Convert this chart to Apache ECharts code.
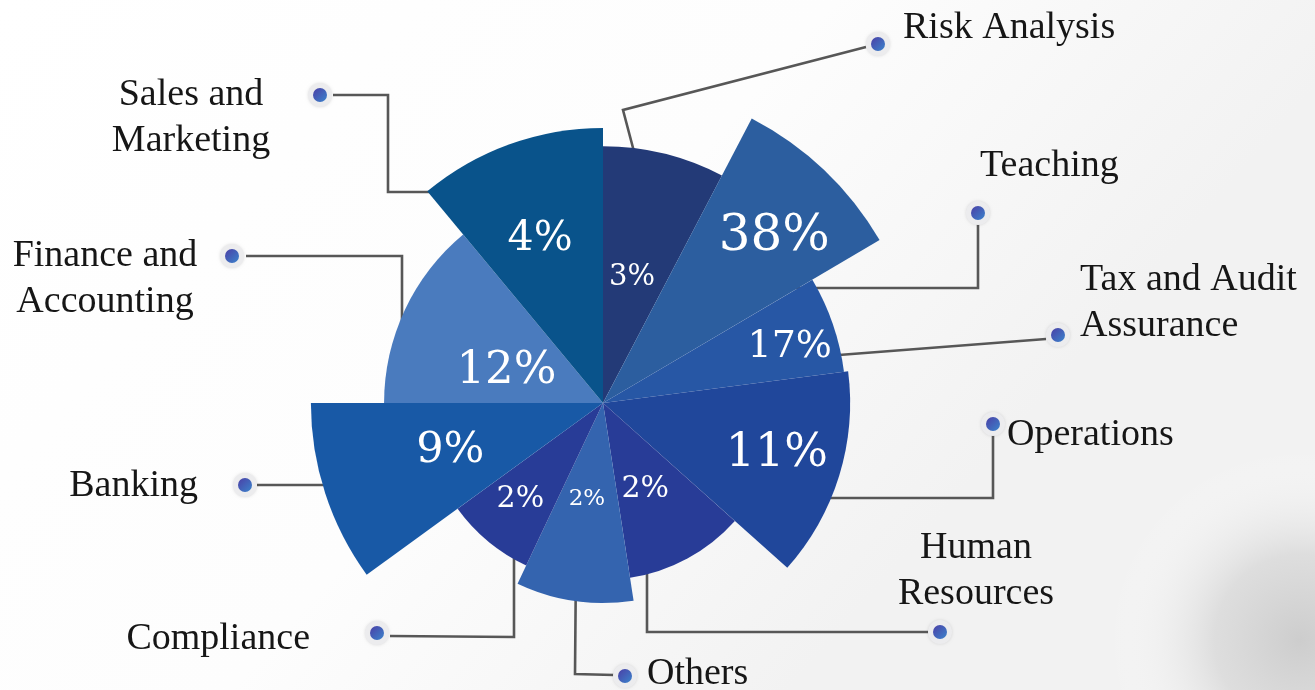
<!DOCTYPE html>
<html><head><meta charset="utf-8">
<script src="https://cdn.jsdelivr.net/npm/echarts@6/dist/echarts.min.js"></script>
<style>html,body{margin:0;padding:0;background:#fff;}#chart{width:1315px;height:690px;}</style>
</head><body><div id="chart"></div>
<script>
// ---------------- DATA ----------------
const categories = ['Risk Analysis', 'Teaching', 'Tax and Audit Assurance', 'Operations', 'Human Resources',
  'Others', 'Compliance', 'Banking', 'Finance and Accounting', 'Sales and Marketing'];
const percentValues = [3, 38, 17, 11, 2, 2, 2, 9, 12, 4];
// angular span of each slice (degrees, clockwise from 12 o'clock)
const sliceAngles = [27.6, 31.9, 23.1, 49.2, 39.4, 34.1, 28.7, 36.0, 50.3, 39.7];
// relative slice length (longest = 100)
const sliceRadii = [80, 100, 75.7, 77, 55.1, 62.3, 56, 91, 68.2, 85.7];

// ---------------- STYLE / LAYOUT ----------------
const colors = ['#233a77', '#2c5e9f', '#2757a5', '#20479b', '#283c97', '#3464af', '#283c97', '#1859a6', '#4a7bbe', '#09538b'];
const pctFont = [29, 50, 38, 46, 30, 23, 30, 43, 45, 41];
const pctDist = [41.1, 75.4, 61.1, 56.1, 29.0, 29.6, 38.9, 49.5, 32.1, 55.8]; // radial units
const pctShift = [-1.1, 1.5, 1.1, -2.2, 1.5, 1.5, 1.8, 2.0, -4.8, -0.7];     // degrees
const nameBreak = [0, 0, 3, 0, 1, 0, 0, 0, 2, 2];
const nameLayout = [
  {x: 903, y: 28, align: 'left'}, {x: 980, y: 166, align: 'left'}, {x: 1080, y: 303, align: 'left'},
  {x: 1007, y: 435, align: 'left'}, {x: 976, y: 571, align: 'center'}, {x: 647, y: 674, align: 'left'},
  {x: 310, y: 639, align: 'right'}, {x: 198, y: 486, align: 'right'}, {x: 105, y: 279, align: 'center'},
  {x: 191, y: 118, align: 'center'}
];
const leaders = [
  [[660, 250], [623, 110], [866, 47]],
  [[790, 288], [978, 288], [978, 222]],
  [[800, 358], [1046, 339]],
  [[800, 498], [993, 498], [993, 433]],
  [[647, 540], [647, 632], [930, 632]],
  [[576, 560], [575, 674], [614, 675]],
  [[514, 520], [514, 637], [390, 636]],
  [[340, 485], [257, 485]],
  [[402, 330], [402, 256], [246, 256]],
  [[450, 192], [388, 192], [388, 95], [333, 95]]
];
const dots = [[878, 44], [978, 213], [1058, 335], [993, 424], [940, 632], [625, 676], [377, 633], [245, 485], [232, 256], [320, 95]];

// build data: [radius, startAngle, endAngle, percent]
const seriesData = [];
let acc = 0;
for (let i = 0; i < categories.length; i++) {
  seriesData.push([sliceRadii[i], acc, acc + sliceAngles[i], percentValues[i]]);
  acc += sliceAngles[i];
}

function wrapName(name, k) {
  if (!k) return name;
  const w = name.split(' ');
  return w.slice(0, k).join(' ') + '\n' + w.slice(k).join(' ');
}

function renderItem(params, api) {
  const i = params.dataIndex;
  const cs = params.coordSys;
  const cx = cs.cx, cy = cs.cy;
  const r = api.value(0), a0 = api.value(1), a1 = api.value(2);
  const p0 = api.coord([r, a0]);
  const p1 = api.coord([r, a1]);
  const rad = Math.hypot(p0[0] - cx, p0[1] - cy);
  let s = Math.atan2(p0[1] - cy, p0[0] - cx);
  let e = Math.atan2(p1[1] - cy, p1[0] - cx);
  if (e <= s) e += Math.PI * 2;
  const lp = api.coord([pctDist[i], (a0 + a1) / 2 + pctShift[i]]);
  const d = dots[i];
  const nl = nameLayout[i];
  return {
    type: 'group',
    children: [
      {type: 'polyline', z2: 1, shape: {points: leaders[i]},
        style: {stroke: '#575757', lineWidth: 2.6, fill: null}},
      {type: 'sector', z2: 10, shape: {cx: cx, cy: cy, r0: 0, r: rad, startAngle: s, endAngle: e, clockwise: true},
        style: {fill: colors[i]}},
      {type: 'text', z2: 20, x: lp[0], y: lp[1] + pctFont[i] * 0.1,
        style: {text: api.value(3) + '%', fill: '#ffffff', fontSize: pctFont[i], fontFamily: '"DejaVu Serif", serif',
          align: 'center', verticalAlign: 'middle'}},
      {type: 'circle', z2: 5, shape: {cx: d[0], cy: d[1], r: 12},
        style: {fill: '#ececee', shadowBlur: 3, shadowColor: 'rgba(0,0,0,0.12)'}},
      {type: 'circle', z2: 6, shape: {cx: d[0], cy: d[1], r: 7},
        style: {fill: new echarts.graphic.LinearGradient(0, 0, 1, 1, [
          {offset: 0, color: '#4b3fa6'}, {offset: 1, color: '#3b84cc'}])}},
      {type: 'text', z2: 20, x: nl.x, y: nl.y,
        style: {text: wrapName(categories[i], nameBreak[i]), fill: '#161616', fontSize: 38,
          fontFamily: '"Liberation Serif", serif', align: nl.align, verticalAlign: 'middle', lineHeight: 46}}
    ]
  };
}

const chart = echarts.init(document.getElementById('chart'), null, {renderer: 'canvas'});
chart.setOption({
  backgroundColor: '#ffffff',
  animation: false,
  graphic: [
    {type: 'rect', z: -10, shape: {x: 0, y: 0, width: 1315, height: 690}, silent: true,
      style: {fill: new echarts.graphic.LinearGradient(0, 0, 0.6, 1, [
        {offset: 0, color: '#ffffff'}, {offset: 0.6, color: '#fdfdfd'}, {offset: 1, color: '#f2f2f2'}])}},
    {type: 'circle', z: -9, shape: {cx: 1300, cy: 640, r: 190}, silent: true,
      style: {fill: new echarts.graphic.RadialGradient(0.5, 0.5, 0.5, [
        {offset: 0, color: 'rgba(205,205,205,1)'}, {offset: 0.45, color: 'rgba(218,218,218,0.85)'},
        {offset: 1, color: 'rgba(255,255,255,0)'}])}}
  ],
  polar: {center: [603, 403], radius: 321},
  angleAxis: {type: 'value', min: 0, max: 360, startAngle: 90, clockwise: true, show: false},
  radiusAxis: {type: 'value', min: 0, max: 100, show: false},
  series: [{
    type: 'custom',
    coordinateSystem: 'polar',
    renderItem: renderItem,
    data: seriesData,
    silent: true
  }]
});
</script>
</body></html>
